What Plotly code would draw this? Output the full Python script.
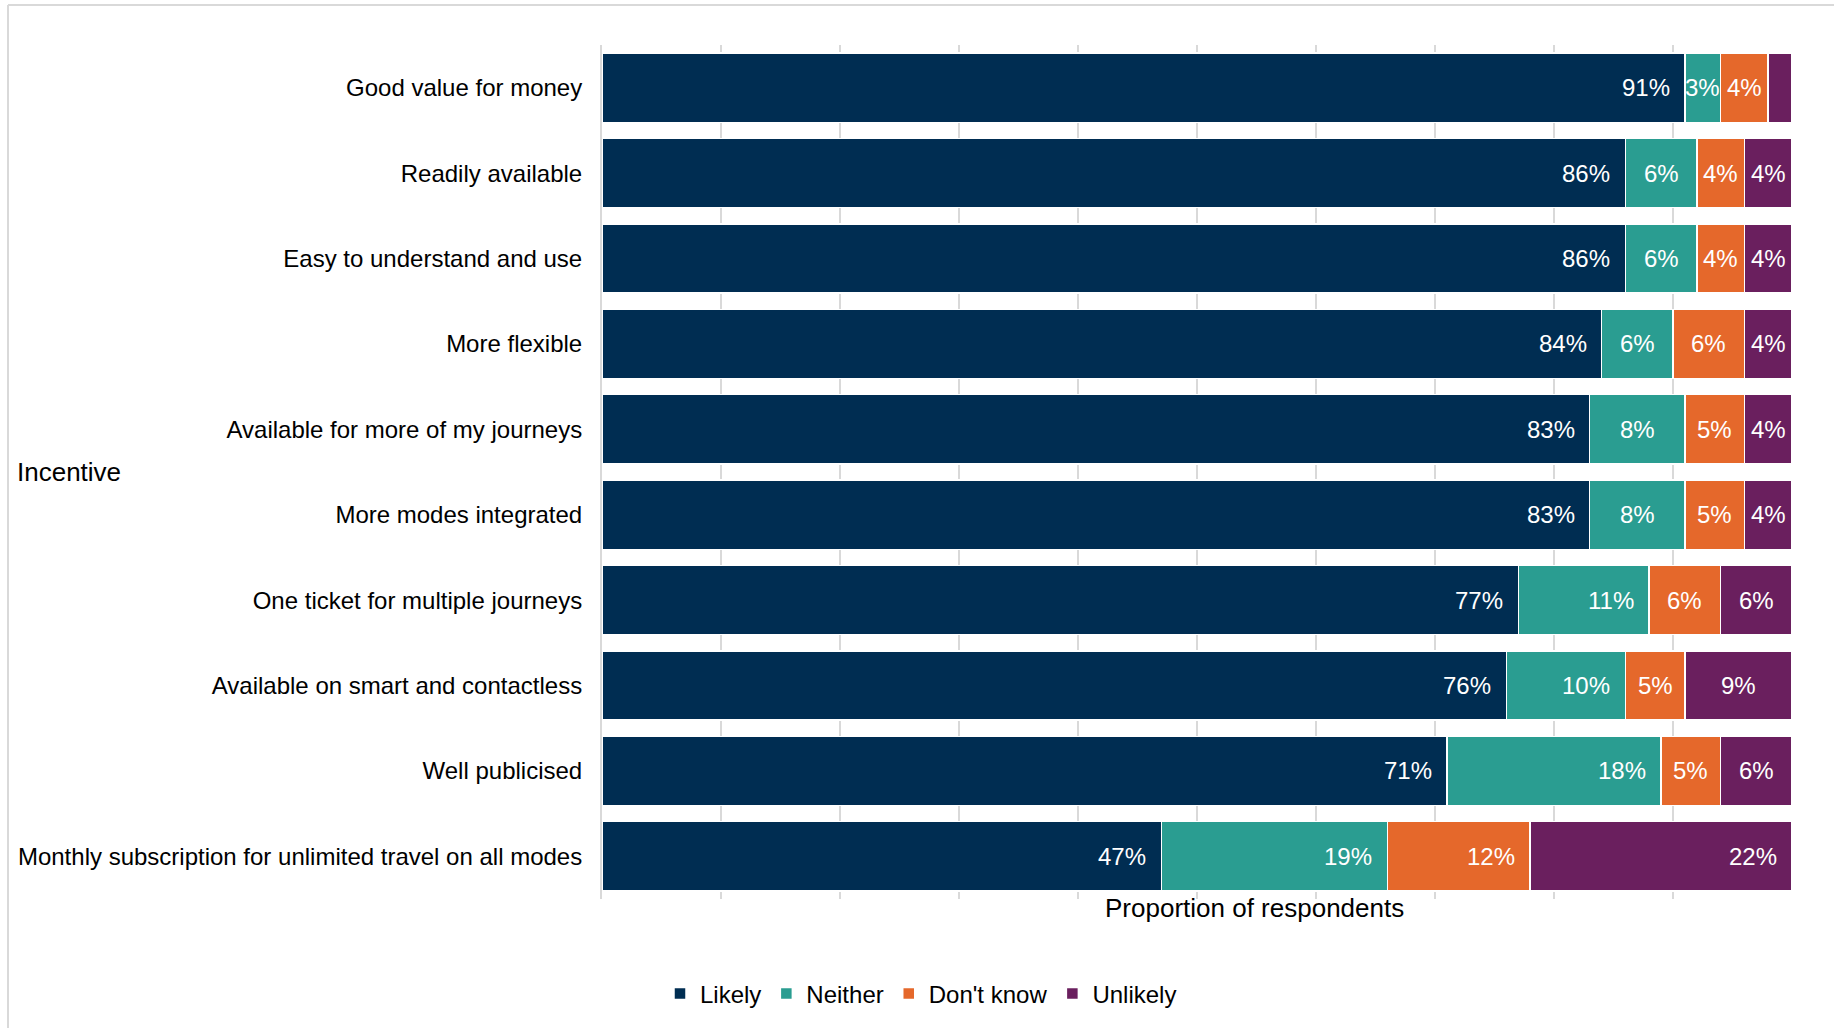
import plotly.graph_objects as go

# Survey results: likelihood of using a ticket product with each incentive
categories = [
    "Good value for money",
    "Readily available",
    "Easy to understand and use",
    "More flexible",
    "Available for more of my journeys",
    "More modes integrated",
    "One ticket for multiple journeys",
    "Available on smart and contactless",
    "Well publicised",
    "Monthly subscription for unlimited travel on all modes",
]
likely = [91, 86, 86, 84, 83, 83, 77, 76, 71, 47]
neither = [3, 6, 6, 6, 8, 8, 11, 10, 18, 19]
dont_know = [4, 4, 4, 6, 5, 5, 6, 5, 5, 12]
unlikely = [2, 4, 4, 4, 4, 4, 6, 9, 6, 22]

series_names = ["Likely", "Neither", "Don't know", "Unlikely"]
series_values = [likely, neither, dont_know, unlikely]
series_colors = ["#002D52", "#2A9D91", "#E5682B", "#6A1F5E"]

FONT = "Liberation Sans, Arial, sans-serif"
W, H = 1834, 1028
ML, MR, MT, MB = 602, 42, 45, 127
PW, PH = W - ML - MR, H - MT - MB


def px_x(px):
    return (px - ML) / PW


def px_y(py):
    return (H - MB - py) / PH


fig = go.Figure()
for name, vals, col in zip(series_names, series_values, series_colors):
    fig.add_trace(go.Bar(
        name=name, y=categories, x=vals, orientation="h",
        marker=dict(color=col, line=dict(color="white", width=1.5)),
        hoverinfo="skip",
    ))

# Percentage labels: wide segments get the label at the inner end, narrow ones centred
annotations = []
cum = [0] * len(categories)
for vals in series_values:
    for i, (cat, v) in enumerate(zip(categories, vals)):
        start = cum[i]
        end = start + v
        if v >= 3:
            if v >= 10:
                annotations.append(dict(
                    x=end, y=cat, xref="x", yref="y", text=f"{v}%",
                    xanchor="right", yanchor="middle", xshift=-13,
                    showarrow=False, font=dict(family=FONT, size=24, color="white"),
                ))
            else:
                annotations.append(dict(
                    x=(start + end) / 2, y=cat, xref="x", yref="y", text=f"{v}%",
                    xanchor="center", yanchor="middle",
                    showarrow=False, font=dict(family=FONT, size=24, color="white"),
                ))
        cum[i] = end

annotations.append(dict(
    x=px_x(1254), y=px_y(910), xref="paper", yref="paper",
    text="Proportion of respondents", showarrow=False,
    xanchor="center", yanchor="middle",
    font=dict(family=FONT, size=26, color="black"),
))
annotations.append(dict(
    x=px_x(15), y=px_y(473), xref="paper", yref="paper",
    text="Incentive", showarrow=False,
    xanchor="left", yanchor="middle",
    font=dict(family=FONT, size=26, color="black"),
))

frame_color = "#D9D9D9"
shapes = [
    dict(type="line", xref="paper", yref="paper",
         x0=px_x(8), x1=px_x(8), y0=px_y(5), y1=px_y(H + 5),
         line=dict(color=frame_color, width=2)),
    dict(type="line", xref="paper", yref="paper",
         x0=px_x(8), x1=px_x(W + 5), y0=px_y(5), y1=px_y(5),
         line=dict(color=frame_color, width=2)),
]

fig.update_layout(
    width=W, height=H, autosize=False,
    margin=dict(l=ML, r=MR, t=MT, b=MB, pad=0),
    paper_bgcolor="white", plot_bgcolor="white",
    barmode="stack", bargap=0.19,
    font=dict(family=FONT, size=24, color="black"),
    showlegend=True,
    legend=dict(
        orientation="h", x=px_x(W / 2 + 4), xanchor="center",
        y=px_y(996), yanchor="middle",
        font=dict(family=FONT, size=24, color="black"),
        traceorder="normal", itemclick=False, itemwidth=30,
    ),
    xaxis=dict(
        range=[0, 100], dtick=10, showgrid=True, gridcolor=frame_color,
        gridwidth=2, zeroline=False, showticklabels=False, ticks="",
        fixedrange=True,
    ),
    yaxis=dict(
        autorange="reversed", showgrid=False, showline=True,
        linecolor=frame_color, linewidth=2, ticks="",
        ticklabelstandoff=13,
        tickfont=dict(family=FONT, size=24, color="black"),
        fixedrange=True,
    ),
    annotations=annotations,
    shapes=shapes,
)

fig.write_html("out.html", config={"displayModeBar": False})
